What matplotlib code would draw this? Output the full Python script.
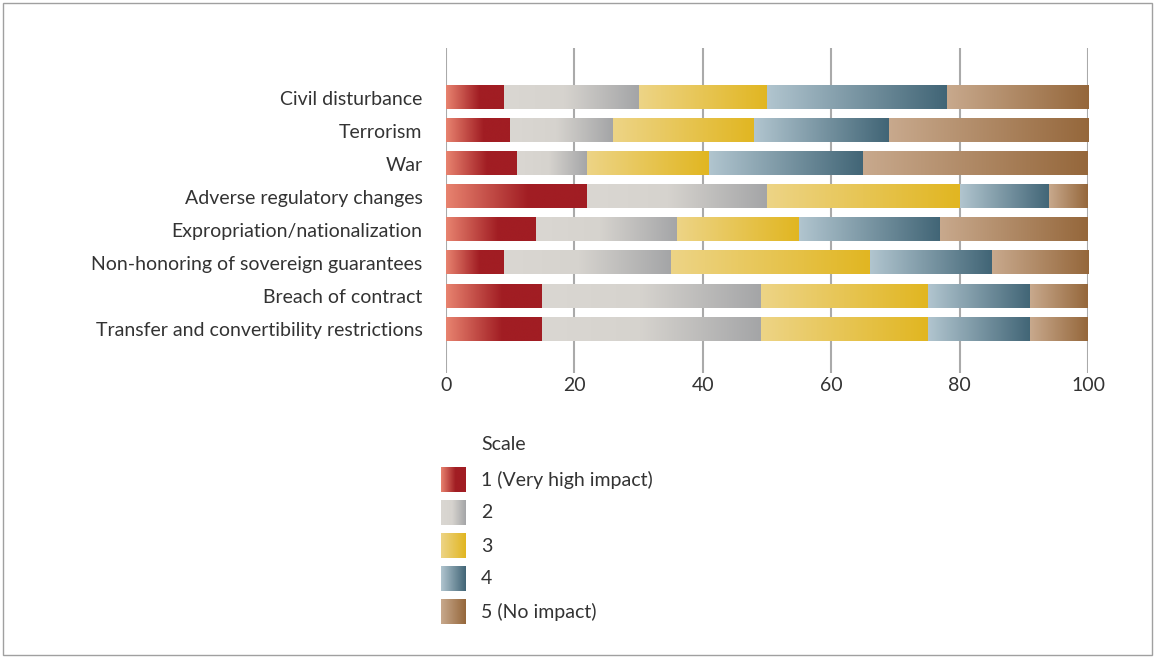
import matplotlib.pyplot as plt
import numpy as np
from matplotlib.colors import LinearSegmentedColormap
from matplotlib.patches import Rectangle

plt.rcParams['font.family'] = ['Lato', 'DejaVu Sans']

categories = ['Civil disturbance', 'Terrorism', 'War', 'Adverse regulatory changes',
              'Expropriation/nationalization', 'Non-honoring of sovereign guarantees',
              'Breach of contract', 'Transfer and convertibility restrictions']
scale_labels = ['1 (Very high impact)', '2', '3', '4', '5 (No impact)']
# share of respondents per impact level (percent)
s1 = [9, 10, 11, 22, 14, 9, 15, 15]
s2 = [21, 16, 11, 28, 22, 26, 34, 34]
s3 = [20, 22, 19, 30, 19, 31, 26, 26]
s4 = [28, 21, 24, 14, 22, 19, 16, 16]
s5 = [22, 31, 35, 6, 23, 15, 9, 9]
xticks = [0, 20, 40, 60, 80, 100]

# gradient stops for each level (left -> right)
grads = [
    [(0, '#E8836F'), (0.58, '#A11D23'), (1, '#A11D23')],
    [(0, '#DAD7D2'), (0.45, '#D6D3CE'), (1, '#A4A5A7')],
    [(0, '#EDD486'), (1, '#E1B621')],
    [(0, '#B1C5CF'), (1, '#416576')],
    [(0, '#C8A98D'), (1, '#95673B')],
]
cmaps = [LinearSegmentedColormap.from_list('g%d' % i, g) for i, g in enumerate(grads)]
ramp = np.linspace(0, 1, 256).reshape(1, -1)
txt = '#333333'

fig = plt.figure(figsize=(11.55, 6.58), dpi=100)
fig.patches.append(Rectangle((3/1155, 3/658), 1149/1155, 652/658, transform=fig.transFigure,
                             fill=False, edgecolor='#A0A0A0', lw=1))

ax = fig.add_axes([446/1155, 1 - 373/658, 642/1155, 325/658])
y = np.arange(len(categories))
series = [s1, s2, s3, s4, s5]
left = np.zeros(len(categories))
for k, vals in enumerate(series):
    bars = ax.barh(y, vals, left=left, height=0.7, color='none', edgecolor='none', zorder=2)
    for b in bars:
        x0, y0 = b.get_x(), b.get_y()
        ax.imshow(ramp, cmap=cmaps[k], aspect='auto', zorder=2, interpolation='bilinear',
                  extent=(x0, x0 + b.get_width(), y0 + b.get_height(), y0))
    left += np.array(vals)

ax.set_xlim(0, 100)
ax.set_ylim(len(categories) - 1 + 1.33, -1.5)
ax.set_yticks(y)
ax.set_yticklabels(categories, fontsize=14, color=txt)
ax.set_xticks(xticks)
ax.set_xticklabels([str(t) for t in xticks], fontsize=14, color=txt)
ax.tick_params(axis='y', length=0, pad=17)
ax.tick_params(axis='x', length=0, pad=3)
for sp in ax.spines.values():
    sp.set_visible(False)
ax.grid(axis='x', color='#AAAAAA', lw=1.5, zorder=0)
ax.set_axisbelow(True)

# legend
lax = fig.add_axes([441/1155, 1 - 630/658, 300/1155, 200/658])
lax.axis('off')
lax.text(40, 15, 'Scale', fontsize=14, color=txt, va='center')
for k, lab in enumerate(scale_labels):
    top = 37 + 33 * k
    lax.imshow(ramp, cmap=cmaps[k], aspect='auto', interpolation='bilinear',
               extent=(0, 25, top + 25, top))
    lax.text(40, top + 13, lab, fontsize=14, color=txt, va='center')
lax.set_xlim(0, 300)
lax.set_ylim(200, 0)

fig.savefig('out.png', dpi=100)
